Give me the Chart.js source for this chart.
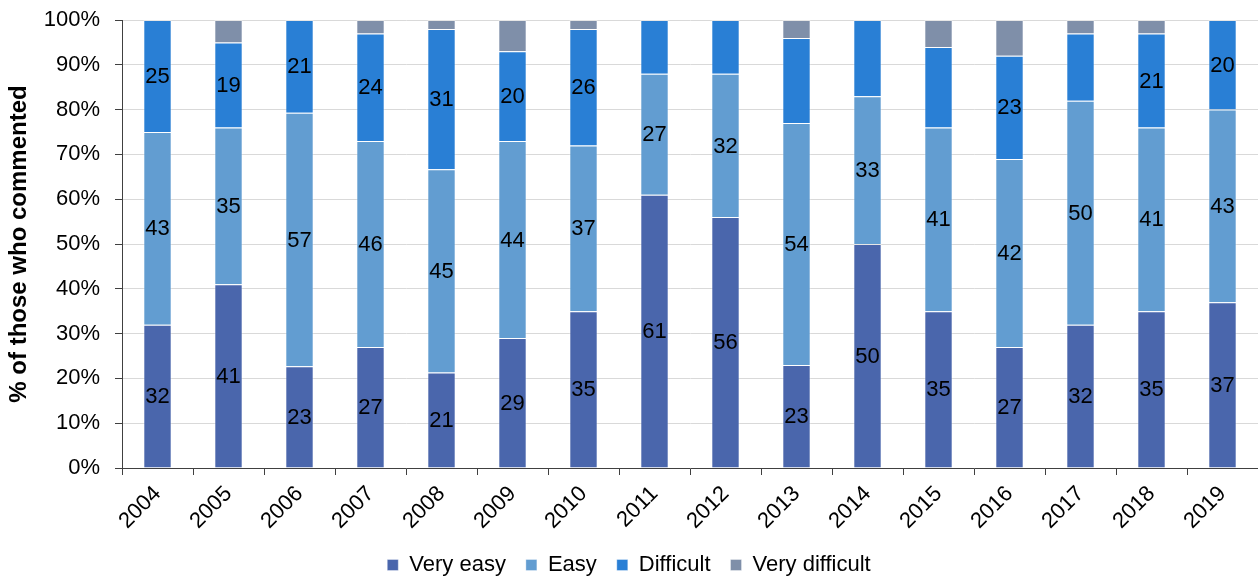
<!DOCTYPE html>
<html>
<head>
<meta charset="utf-8">
<script src="https://cdn.jsdelivr.net/npm/chart.js@4.4.1/dist/chart.umd.min.js"></script>
<style>
  html, body { margin: 0; padding: 0; background: #ffffff; }
  #wrap { width: 1258px; height: 579px; position: relative; }
</style>
</head>
<body>
<div id="wrap"><canvas id="c" width="1258" height="579"></canvas></div>
<script>
const years = ['2004','2005','2006','2007','2008','2009','2010','2011','2012','2013','2014','2015','2016','2017','2018','2019'];
const veryEasy      = [32, 41, 22.7, 27, 21.3, 29, 35, 61, 56, 23, 50, 35, 27, 32, 35, 37];
const easy          = [43, 35, 56.6, 46, 45.4, 44, 37, 27, 32, 54, 33, 41, 42, 50, 41, 43];
const difficult     = [25, 19, 20.7, 24, 31.3, 20, 26, 12, 12, 19, 17, 18, 23, 15, 21, 20];
const veryDifficult = [0, 5, 0, 3, 2, 7, 2, 0, 0, 4, 0, 6, 8, 3, 3, 0];

// Data label texts as displayed (null = no label shown)
const veryEasyLabels      = ['32','41','23','27','21','29','35','61','56','23','50','35','27','32','35','37'];
const easyLabels          = ['43','35','57','46','45','44','37','27','32','54','33','41','42','50','41','43'];
const difficultLabels     = ['25','19','21','24','31','20','26',null,null,null,null,null,'23',null,'21','20'];
const veryDifficultLabels = [null,null,null,null,null,null,null,null,null,null,null,null,null,null,null,null];

const yTicks = [0,10,20,30,40,50,60,70,80,90,100];

const FONT = '"Liberation Sans", Arial, sans-serif';

const segLabels = {
  id: 'segLabels',
  afterDatasetsDraw(chart) {
    const ctx = chart.ctx;
    ctx.save();
    ctx.font = '22px ' + FONT;
    ctx.fillStyle = '#000000';
    ctx.textAlign = 'center';
    ctx.textBaseline = 'middle';
    chart.data.datasets.forEach((ds, di) => {
      const meta = chart.getDatasetMeta(di);
      if (meta.hidden) return;
      meta.data.forEach((el, i) => {
        const t = ds.labelTexts[i];
        if (t == null) return;
        const cy = (el.y + el.base) / 2;
        ctx.fillText(t, el.x, cy + 1);
      });
    });
    ctx.restore();
  }
};

const common = { borderWidth: 1, borderColor: 'rgba(255,255,255,0.35)', barPercentage: 0.4, categoryPercentage: 1.0 };

new Chart(document.getElementById('c'), {
  type: 'bar',
  data: {
    labels: years,
    datasets: [
      Object.assign({ label: 'Very easy', data: veryEasy, backgroundColor: '#4A66AC', labelTexts: veryEasyLabels }, common),
      Object.assign({ label: 'Easy', data: easy, backgroundColor: '#629DD1', labelTexts: easyLabels }, common),
      Object.assign({ label: 'Difficult', data: difficult, backgroundColor: '#297FD5', labelTexts: difficultLabels }, common),
      Object.assign({ label: 'Very difficult', data: veryDifficult, backgroundColor: '#7F8FA9', labelTexts: veryDifficultLabels }, common)
    ]
  },
  options: {
    responsive: false,
    animation: false,
    devicePixelRatio: 1,
    layout: { padding: { top: 20, right: 0, left: 0, bottom: -7 } },
    plugins: {
      tooltip: { enabled: false },
      legend: {
        position: 'bottom',
        labels: {
          font: { size: 22, family: FONT },
          color: '#000000',
          boxWidth: 11,
          boxHeight: 11,
          padding: 20,
          useBorderRadius: false
        }
      }
    },
    scales: {
      x: {
        stacked: true,
        offset: true,
        grid: { display: true, drawOnChartArea: false, offset: true, tickLength: 7, color: '#404040', lineWidth: 1 },
        border: { display: true, color: '#404040', width: 1 },
        ticks: { font: { size: 22, family: FONT }, color: '#000000', maxRotation: 45, minRotation: 45, padding: 6 },
        afterFit(s) { s.height = 66; }
      },
      y: {
        stacked: true,
        min: 0,
        max: 100,
        afterBuildTicks(s) { s.ticks = yTicks.map(v => ({ value: v })); },
        grid: { color: '#d9d9d9', lineWidth: 1, tickLength: 7, tickColor: '#404040' },
        border: { display: true, color: '#404040', width: 1 },
        ticks: { font: { size: 22, family: FONT }, color: '#000000', padding: 15, callback: v => v + '%' },
        title: { display: true, text: '% of those who commented', font: { size: 24, weight: 'bold', family: FONT }, color: '#000000', padding: { top: 5, bottom: 0 } },
        afterFit(s) { s.width = 122; s.paddingTop = 0; s.paddingBottom = 0; }
      }
    }
  },
  plugins: [segLabels]
});
</script>
</body>
</html>
